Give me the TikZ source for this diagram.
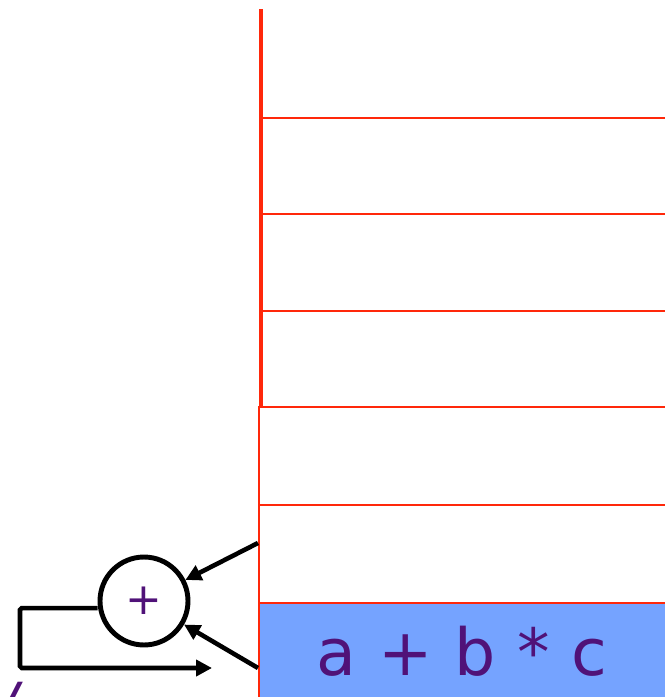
\documentclass[tikz,border=0pt]{standalone}
\usepackage{fontspec}
\setsansfont{DejaVu Sans}
\usepackage{tikz}
\usetikzlibrary{arrows.meta}

\definecolor{stackred}{RGB}{255,40,10}
\definecolor{accblue}{RGB}{117,163,255}
\definecolor{txtpurple}{RGB}{80,18,120}

\tikzset{
  cell/.style={draw=stackred,line width=0.9pt,anchor=north west,
    minimum width=8.6cm,minimum height=1.96cm,inner sep=0pt},
  wire/.style={line width=2.6pt,-{Triangle[length=9pt,width=9pt]}},
}

\begin{document}
\begin{tikzpicture}[x=0.02cm,y=-0.02cm]
  \useasboundingbox (0,0) rectangle (665,697);
  % stack cells
  \draw[stackred,line width=2.3pt] (261,9) -- (261,406);
  \draw[stackred,line width=1.1pt] (262,118) -- (665,118);
  \draw[stackred,line width=1.1pt] (262,214) -- (665,214);
  \draw[stackred,line width=1.1pt] (262,311) -- (665,311);
  \node[cell] (c1) at (258,406) {};
  \node[cell] (c2) at (258,504) {};
  \node[cell,fill=accblue] (c3) at (258,602) {};
  \node[font=\sffamily\fontsize{37}{42}\selectfont,text=txtpurple] (acc) at (462,651) {a\,\,+\,\,b\,\,*\,\,c};
  % adder
  \node[draw,circle,line width=2.8pt,minimum size=1.76cm,inner sep=0pt,
    font=\sffamily\fontsize{25}{30}\selectfont,text=txtpurple] (sum) at (144,601) {+};
  \coordinate (s1) at (258,543);
  \coordinate (s2) at (258,668);
  \draw[wire] (s1) -- (sum);
  \draw[wire] (s2) -- (sum);
  \coordinate (fb) at (212,668);
  \draw[wire,rounded corners=1pt] ([yshift=-4pt]sum.west) -| (20,668) -- (fb);
  \node[font=\sffamily\itshape\bfseries\fontsize{26}{30}\selectfont,text=txtpurple,anchor=north] (cut) at (12,676) {/};
\end{tikzpicture}
\end{document}
